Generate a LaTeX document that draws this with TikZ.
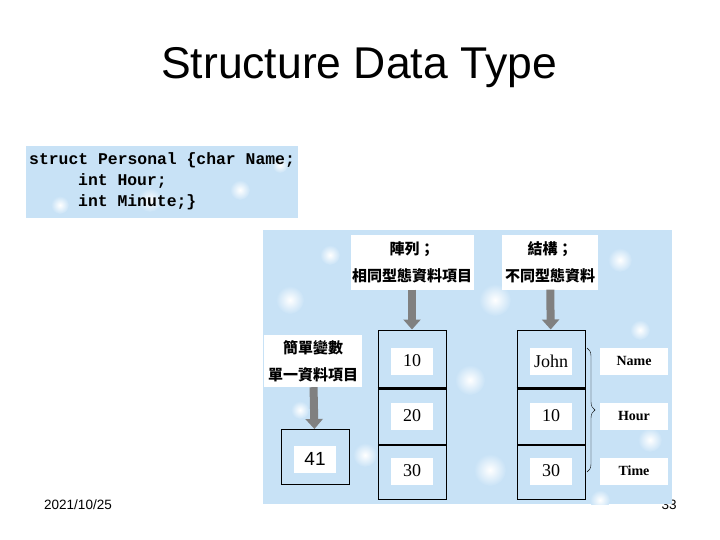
\documentclass[tikz,border=0pt]{standalone}
\usepackage{fontspec}
\setmainfont{Liberation Serif}
\setsansfont{Liberation Sans}
\setmonofont{Liberation Mono}
\newfontfamily\cjkfont{Noto Sans CJK TC}
\usepackage{tikz}
\usetikzlibrary{arrows.meta,decorations.pathreplacing}
\definecolor{skyblue}{RGB}{200,226,246}
\definecolor{arrowgray}{RGB}{128,128,128}

\begin{document}
\begin{tikzpicture}[
    x=1pt, y=-1pt,
    every node/.style={inner sep=0pt},
    tag/.style={fill=white, align=center, minimum height=55pt,
                font=\cjkfont\bfseries\fontsize{15}{27}\selectfont},
    cell/.style={draw, line width=1pt, minimum width=68pt},
    val/.style={fill=white, minimum width=42pt, minimum height=27pt,
                font=\fontsize{18}{20}\selectfont},
    fld/.style={fill=white, minimum width=68pt, minimum height=27pt,
                font=\bfseries\fontsize{14}{15}\selectfont},
    garrow/.style={arrowgray, line width=8pt, -{Triangle[length=10pt,width=17pt]}},
    spot/.style={inner color=white, outer color=skyblue},
  ]
  \useasboundingbox (0,0) rectangle (720,540);
  \node[font=\sffamily\fontsize{44.5}{50}\selectfont] (title) at (359,68) {Structure Data Type};
  % code box
  \begin{scope}
    \clip (26,146) rectangle (298,218);
    \fill[skyblue] (26,146) rectangle (298,218);
    \foreach \x/\y/\r in {60/205/9, 150/200/12, 240/190/10, 280/165/8}
      \shade[spot] (\x,\y) circle (\r pt);
  \end{scope}
  \node[anchor=west, align=left, font=\ttfamily\bfseries\fontsize{16.4}{21}\selectfont] (code) at (29,181)
    {struct Personal \{char Name;\\\hspace*{49pt}int Hour;\\\hspace*{49pt}int Minute;\}};
  % footer
  \node[font=\sffamily\fontsize{13.5}{15}\selectfont] (date) at (78,505) {2021/10/25};
  \node[font=\sffamily\fontsize{13.5}{15}\selectfont] (page) at (669,505) {33};
  % picture panel
  \begin{scope}
    \clip (263,230) rectangle (672,504);
    \fill[skyblue] (263,230) rectangle (672,504);
    \foreach \x/\y/\r in {290/300/14, 330/255/10, 495/300/16, 620/260/12, 470/380/15,
                          640/330/10, 365/455/12, 490/470/16, 600/500/10, 300/410/9,
                          650/440/12, 460/250/9}
      \shade[spot] (\x,\y) circle (\r pt);
  \end{scope}
  % labels
  \node[tag, minimum width=123pt] (arrtag) at (412,262) {陣列；\\相同型態資料項目};
  \node[tag, minimum width=96pt] (strtag) at (550,262) {結構；\\不同型態資料};
  \node[tag, minimum width=98pt, minimum height=52pt] (simtag) at (313,361) {簡單變數\\單一資料項目};
  % simple variable
  \node[cell, minimum height=55pt] (box41) at (315,457) {};
  \node[val, font=\sffamily\fontsize{19}{20}\selectfont] (v41) at (315,459) {41};
  % array
  \node[cell, minimum height=58pt] (a1) at (412,359) {};
  \node[cell, minimum height=55pt, anchor=north] (a2) at (a1.south) {};
  \node[cell, minimum height=54pt, anchor=north] (a3) at (a2.south) {};
  \draw[line width=2.5pt] (a1.south west) -- (a1.south east);
  \node[val] (va1) at (412,361) {10};
  \node[val] (va2) at (412,416) {20};
  \node[val] (va3) at (412,471) {30};
  % structure
  \node[cell, minimum height=58pt] (s1) at (551,359) {};
  \node[cell, minimum height=55pt, anchor=north] (s2) at (s1.south) {};
  \node[cell, minimum height=54pt, anchor=north] (s3) at (s2.south) {};
  \draw[line width=2.5pt] (s1.south west) -- (s1.south east);
  \node[val] (vs1) at (551,361) {John};
  \node[val] (vs2) at (551,416) {10};
  \node[val] (vs3) at (551,471) {30};
  % field names
  \node[fld] (fname) at (634,361) {Name};
  \node[fld] (fhour) at (634,416) {Hour};
  \node[fld] (ftime) at (634,471) {Time};
  \coordinate (btop) at (587,348);
  \coordinate (bbot) at (587,472);
  \draw[decorate, decoration={brace, amplitude=8pt}] (btop) -- (bbot);
  % arrows
  \draw[garrow] (arrtag) -- (a1);
  \draw[garrow] (strtag) -- (s1);
  \draw[garrow] (simtag) -- (box41);
\end{tikzpicture}
\end{document}
